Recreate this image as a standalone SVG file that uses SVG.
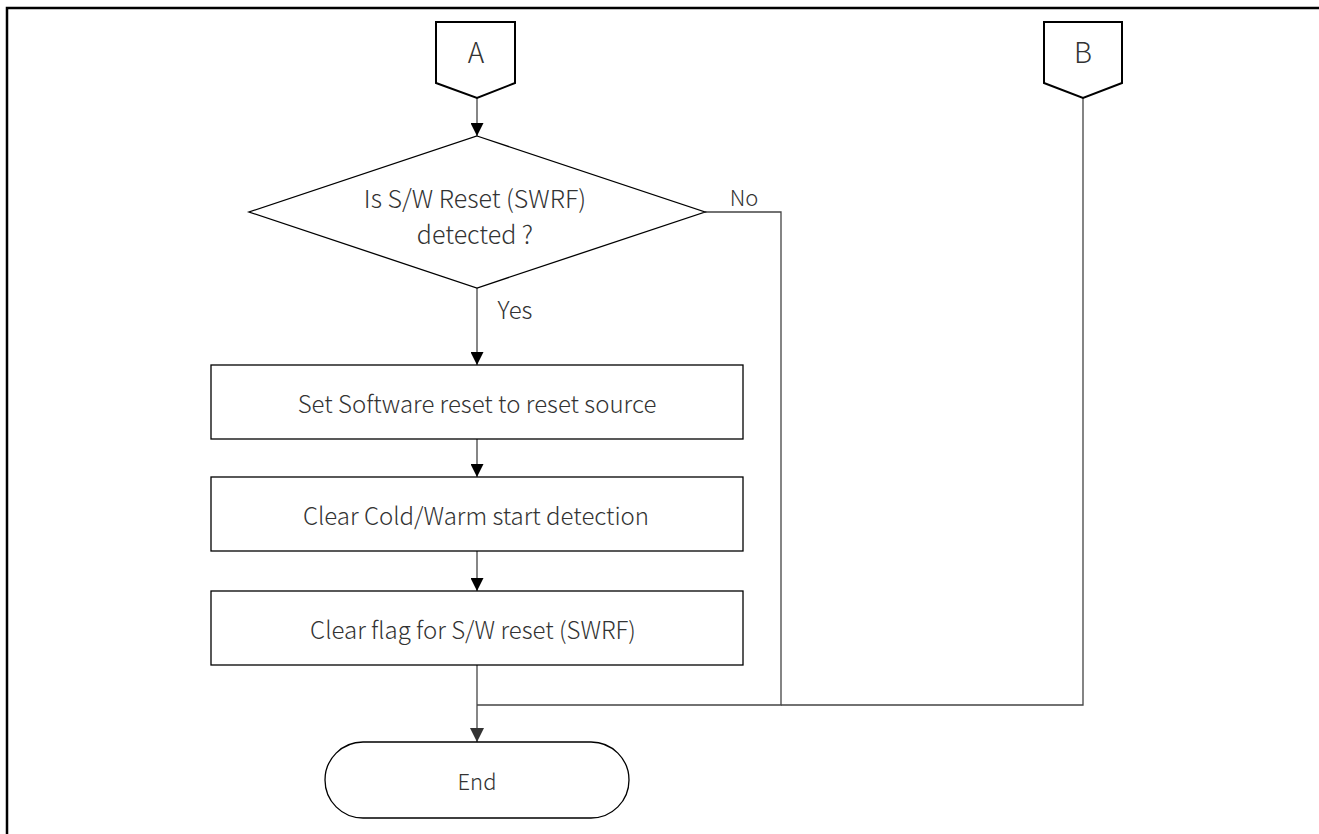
<svg xmlns="http://www.w3.org/2000/svg" width="1319" height="834" viewBox="0 0 1319 834">
<defs>
<style>
.t{font-family:"Noto Sans CJK JP","Noto Sans",sans-serif;font-size:24px;font-weight:300;fill:#333;text-anchor:middle;dominant-baseline:central}
.s{font-size:22px}
.box{fill:#fff;stroke:#000;stroke-width:1.3}
.conn{fill:#fff;stroke:#000;stroke-width:2}
.ln{fill:none;stroke:#444;stroke-width:1.3}
</style>
<marker id="ah" markerWidth="13" markerHeight="13" viewBox="0 0 13 13" refX="13" refY="6.5" orient="auto" markerUnits="userSpaceOnUse">
<path d="M0,0 L13,6.5 L0,13 Z" fill="#000"/>
</marker>
<marker id="ahg" markerWidth="14" markerHeight="14" viewBox="0 0 14 14" refX="14" refY="7" orient="auto" markerUnits="userSpaceOnUse">
<path d="M0,0 L14,7 L0,14 Z" fill="#333"/>
</marker>
</defs>
<rect width="1319" height="834" fill="#fff"/>
<path d="M7,834 V8 H1319" fill="none" stroke="#000" stroke-width="2.5"/>

<g id="connectors">
<line class="ln" x1="477" y1="98" x2="477" y2="136" marker-end="url(#ah)"/>
<line class="ln" x1="477" y1="288" x2="477" y2="365" marker-end="url(#ah)"/>
<line class="ln" x1="477" y1="439" x2="477" y2="477" marker-end="url(#ah)"/>
<line class="ln" x1="477" y1="551" x2="477" y2="591" marker-end="url(#ah)"/>
<line class="ln" x1="477" y1="665" x2="477" y2="742" marker-end="url(#ahg)"/>
<polyline class="ln" points="705,212 781,212 781,705 477,705"/>
<polyline class="ln" points="1083,98 1083,705 781,705"/>
<text class="t s" x="744" y="196">No</text>
<text class="t" x="515" y="308">Yes</text>
</g>

<g id="A">
<path class="conn" d="M436,22 H515 V83 L477,98 L436,83 Z"/>
<text class="t" x="476" y="51" style="font-size:28px">A</text>
</g>
<g id="B">
<path class="conn" d="M1044,22 H1122 V83 L1083,98 L1044,83 Z"/>
<text class="t" x="1083" y="51" style="font-size:28px">B</text>
</g>
<g id="decision">
<path class="box" d="M477,136 L705,212 L477,288 L249,212 Z" stroke="#444"/>
<text class="t" x="475" y="197" style="font-size:25px">Is S/W Reset (SWRF)</text>
<text class="t" x="475" y="233" style="font-size:25px">detected ?</text>
</g>
<g id="box1">
<rect class="box" x="211" y="365" width="532" height="74"/>
<text class="t" x="477" y="402">Set Software reset to reset source</text>
</g>
<g id="box2">
<rect class="box" x="211" y="477" width="532" height="74"/>
<text class="t" x="476" y="514">Clear Cold/Warm start detection</text>
</g>
<g id="box3">
<rect class="box" x="211" y="591" width="532" height="74"/>
<text class="t" x="473" y="628">Clear flag for S/W reset (SWRF)</text>
</g>
<g id="end">
<rect class="box" x="325" y="742" width="304" height="76" rx="38" ry="38" stroke="#444"/>
<text class="t s" x="477" y="780">End</text>
</g>
</svg>
